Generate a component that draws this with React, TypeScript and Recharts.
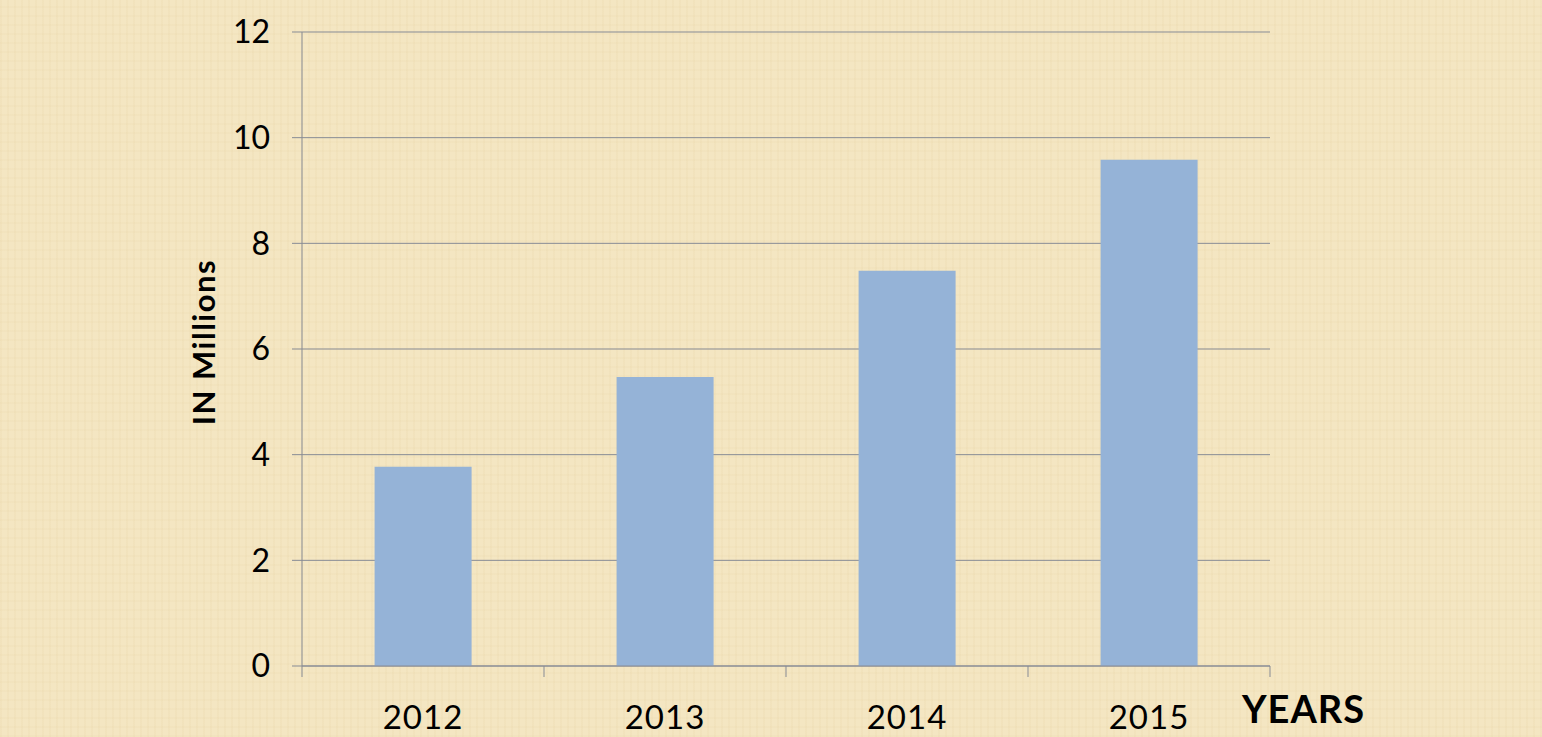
import React from "react";
import {
  BarChart,
  Bar,
  XAxis,
  YAxis,
  CartesianGrid,
  Label,
} from "recharts";

const years = ["2012", "2013", "2014", "2015"];
const values = [3.77, 5.47, 7.48, 9.58];
const yTicks = [0, 2, 4, 6, 8, 10, 12];

const data = years.map((year, i) => ({ year, value: values[i] }));

const axisColor = "#878b94";
const fontFamily = "Lato, 'DejaVu Sans', sans-serif";

const YearTick = (props: any) => {
  const { x, y, payload, width, index } = props;
  const half = width / years.length / 2;
  return (
    <g>
      <line x1={x - half} y1={y} x2={x - half} y2={y + 11} stroke={axisColor} strokeWidth={1} />
      {index === years.length - 1 && (
        <line x1={x + half} y1={y} x2={x + half} y2={y + 11} stroke={axisColor} strokeWidth={1} />
      )}
      <text
        x={x}
        y={y + 63}
        textAnchor="middle"
        fill="#000"
        fontSize={33}
        fontFamily={fontFamily}
        letterSpacing={1}
      >
        {payload.value}
      </text>
    </g>
  );
};

const App: React.FC = () => {
  return (
    <div
      style={{
        position: "absolute",
        left: 0,
        top: 0,
        width: 1542,
        height: 737,
        backgroundColor: "#f4e6c2",
        backgroundImage:
          "repeating-linear-gradient(90deg, rgba(220,195,140,0.10) 0px, rgba(220,195,140,0.10) 2px, transparent 2px, transparent 7px), repeating-linear-gradient(0deg, rgba(220,195,140,0.08) 0px, rgba(220,195,140,0.08) 2px, transparent 2px, transparent 9px)",
      }}
    >
      <BarChart
        width={1542}
        height={737}
        data={data}
        margin={{ top: 32, right: 272, left: 0, bottom: 0 }}
        barCategoryGap="30%"
      >
        <CartesianGrid vertical={false} stroke={axisColor} strokeWidth={1} />
        <XAxis
          dataKey="year"
          height={71}
          stroke={axisColor}
          tickLine={false}
          tickSize={0}
          tickMargin={0}
          tick={<YearTick />}
          interval={0}
        >
          <Label
            content={(p: any) => {
              const vb = p.viewBox;
              return (
                <text
                  x={vb.x + vb.width - 28}
                  y={vb.y + 57}
                  fontSize={38}
                  fontWeight="bold"
                  fontFamily={fontFamily}
                  fill="#000"
                  letterSpacing={1}
                >
                  YEARS
                </text>
              );
            }}
          />
        </XAxis>
        <YAxis
          width={302}
          domain={[0, 12]}
          ticks={yTicks}
          interval={0}
          stroke={axisColor}
          tickSize={10}
          tickMargin={22}
          tick={{ fill: "#000", fontSize: 32, fontFamily }}
        >
          <Label
            content={(p: any) => {
              const vb = p.viewBox;
              const cx = 203;
              const cy = vb.y + vb.height / 2 - 7;
              return (
                <text
                  x={cx}
                  y={cy}
                  transform={`rotate(-90 ${cx} ${cy})`}
                  textAnchor="middle"
                  dominantBaseline="central"
                  fontSize={31}
                  fontWeight="bold"
                  fontFamily={fontFamily}
                  fill="#000"
                  letterSpacing={1.5}
                >
                  IN Millions
                </text>
              );
            }}
          />
        </YAxis>
        <Bar dataKey="value" fill="#95b3d7" isAnimationActive={false} />
      </BarChart>
    </div>
  );
};

export default App;
